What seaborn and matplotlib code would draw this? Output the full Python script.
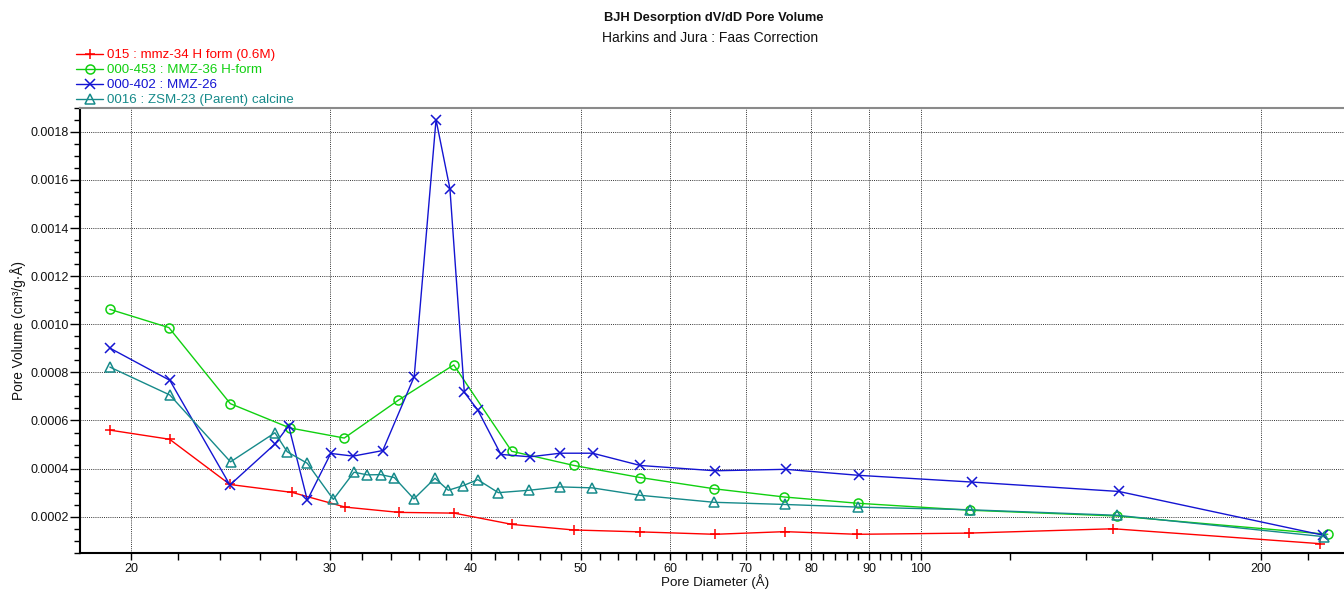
import numpy as np
import pandas as pd
import matplotlib
matplotlib.use("Agg")
import matplotlib.pyplot as plt
import seaborn as sns
from matplotlib.ticker import FixedLocator, FixedFormatter, NullFormatter, MultipleLocator, FormatStrFormatter

# ---------------- data ----------------
red_name = "015 : mmz-34 H form (0.6M)"
red_x = [19.16, 21.64, 24.47, 27.78, 30.95, 34.54, 38.64, 43.50, 49.28, 56.46, 65.74, 75.81, 87.88, 110.3, 148.0, 225.6]
red_y = [0.000560, 0.000522, 0.000334, 0.000301, 0.000240, 0.000218, 0.000215, 0.000168, 0.000145, 0.000137,
         0.000127, 0.000138, 0.000127, 0.000132, 0.000150, 0.000088]

green_name = "000-453 : MMZ-36 H-form"
green_x = [19.16, 21.61, 24.49, 27.65, 30.89, 34.48, 38.61, 43.45, 49.33, 56.44, 65.67, 75.73, 87.92, 110.5, 149.1, 229.1]
green_y = [0.001062, 0.000986, 0.000670, 0.000569, 0.000527, 0.000684, 0.000831, 0.000472, 0.000413, 0.000363,
           0.000316, 0.000282, 0.000256, 0.000227, 0.000203, 0.000127]

blue_name = "000-402 : MMZ-26"
blue_x = [19.16, 21.65, 24.47, 26.82, 27.58, 28.65, 30.05, 31.46, 33.41, 35.62, 37.24, 38.31, 39.45, 40.54, 42.50,
          45.10, 47.97, 51.23, 56.46, 65.74, 75.92, 88.15, 111.05, 149.7, 227.1]
blue_y = [0.000901, 0.000767, 0.000332, 0.000502, 0.000578, 0.000269, 0.000463, 0.000452, 0.000475, 0.000782,
          0.001850, 0.001563, 0.000717, 0.000644, 0.000459, 0.000449, 0.000464, 0.000464, 0.000413, 0.000391,
          0.000397, 0.000372, 0.000344, 0.000305, 0.000123]

teal_name = "0016 : ZSM-23 (Parent) calcine"
teal_x = [19.16, 21.65, 24.50, 26.82, 27.50, 28.65, 30.21, 31.51, 32.37, 33.27, 34.20, 35.60, 37.16, 38.18, 39.35,
          40.54, 42.28, 45.00, 47.95, 51.19, 56.46, 65.61, 75.77, 88.03, 110.5, 149.1, 227.4]
teal_y = [0.000822, 0.000706, 0.000428, 0.000549, 0.000470, 0.000422, 0.000272, 0.000385, 0.000374, 0.000375,
          0.000363, 0.000274, 0.000360, 0.000310, 0.000329, 0.000354, 0.000300, 0.000310, 0.000324, 0.000320,
          0.000289, 0.000260, 0.000251, 0.000240, 0.000229, 0.000206, 0.000117]

x_major = [20, 30, 40, 50, 60, 70, 80, 90, 100, 200]
x_major_labels = ["20", "30", "40", "50", "60", "70", "80", "90", "100", "200"]
x_minor = [v for v in range(22, 100, 2) if v % 10 != 0] + [120, 140, 160, 180, 220]

title = "BJH Desorption dV/dD Pore Volume"
subtitle = "Harkins and Jura : Faas Correction"
xlabel = "Pore Diameter (Å)"
ylabel = "Pore Volume (cm³/g·Å)"

# ---------------- style ----------------
sns.set_theme(style="white")
plt.rcParams["font.family"] = ["Liberation Sans", "DejaVu Sans"]

W, H = 1344, 590
fig = plt.figure(figsize=(W / 100, H / 100), dpi=100)
ax_l, ax_r, ax_t, ax_b = 80, 1344, 107.7, 553.3
ax = fig.add_axes([ax_l / W, 1 - ax_b / H, (ax_r - ax_l) / W, (ax_b - ax_t) / H])

series = [
    (red_name, red_x, red_y, "#ff0000", "+"),
    (green_name, green_x, green_y, "#10d010", "o"),
    (blue_name, blue_x, blue_y, "#1414d2", "x"),
    (teal_name, teal_x, teal_y, "#168a8a", "^"),
]

for name, xs, ys, col, mk in series:
    df = pd.DataFrame({"x": xs, "y": ys})
    sns.lineplot(data=df, x="x", y="y", ax=ax, color=col, linewidth=1.0, marker=mk,
                 markersize=6.5, mfc="none", mec=col, mew=1.1, label=name,
                 estimator=None, sort=False, zorder=3)

ax.set_xscale("log")
ax.set_xlim(18.03, 236.8)
ax.set_ylim(0.000048, 0.0019)

ax.xaxis.set_major_locator(FixedLocator(x_major))
ax.xaxis.set_major_formatter(FixedFormatter(x_major_labels))
ax.xaxis.set_minor_locator(FixedLocator(x_minor))
ax.xaxis.set_minor_formatter(NullFormatter())
ax.yaxis.set_major_locator(MultipleLocator(0.0002))
ax.yaxis.set_minor_locator(MultipleLocator(0.00005))
ax.yaxis.set_major_formatter(FormatStrFormatter("%.4f"))

ax.tick_params(axis="both", which="both", bottom=True, left=True, top=False, right=False,
               direction="out", colors="black", labelsize=9, width=1.0)
ax.tick_params(axis="x", which="both", length=5, pad=2)
ax.tick_params(axis="y", which="major", length=7, pad=1)
ax.tick_params(axis="y", which="minor", length=4)
for lab in ax.get_xticklabels() + ax.get_yticklabels():
    lab.set_color("#111111")

ax.grid(True, which="major", axis="both", color="#333333", linestyle=(0, (1, 1.2)), linewidth=0.7, zorder=0)
ax.set_axisbelow(True)

for side in ["left", "bottom"]:
    ax.spines[side].set_color("black")
    ax.spines[side].set_linewidth(1.5)
ax.spines["top"].set_color("#8a8a8a")
ax.spines["top"].set_linewidth(1.5)
ax.spines["right"].set_visible(False)

ax.set_xlabel(xlabel, fontsize=9.6, color="#111111")
ax.xaxis.label.set_va("center")
ax.xaxis.set_label_coords((715 - ax_l) / (ax_r - ax_l), (ax_b - 582) / (ax_b - ax_t))
ax.set_ylabel(ylabel, fontsize=9.8, color="#111111")
ax.yaxis.label.set_va("center")
ax.yaxis.set_label_coords((18 - ax_l) / (ax_r - ax_l), 0.5)

fig.text(714 / W, 1 - 18 / H, title, ha="center", va="center", fontsize=9.3, fontweight="bold", color="#111111")
fig.text(710 / W, 1 - 38.5 / H, subtitle, ha="center", va="center", fontsize=10, color="#111111")

handles, labels = ax.get_legend_handles_labels()
if ax.get_legend() is not None:
    ax.get_legend().remove()
leg = fig.legend(handles, labels, loc="upper left", bbox_to_anchor=(76 / W, 1 - 49 / H),
                 frameon=False, fontsize=9.6, handlelength=2.05, handletextpad=0.3,
                 labelspacing=0.2, borderpad=0, borderaxespad=0)
for txt, (_, _, _, col, _) in zip(leg.get_texts(), series):
    txt.set_color(col)

fig.savefig("out.png", dpi=100)
